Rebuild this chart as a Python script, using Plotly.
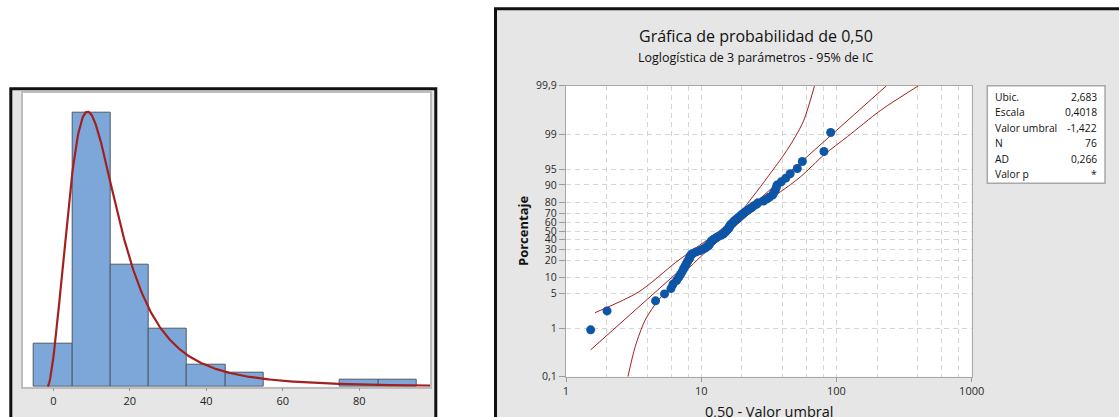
import numpy as np
import plotly.graph_objects as go

W, H = 1119, 417

# ---------------- data ----------------
# sorted observations of "0,50" (read from the probability plot)
values = [0.10, 0.59, 3.17, 3.93, 4.55, 4.76,
          5.15, 5.40, 5.61, 5.79, 5.95, 6.09, 6.23, 6.38, 6.51, 6.65,
          6.80, 6.85, 6.97, 7.20, 7.70, 8.36, 8.82, 9.27, 9.57, 9.91,
          10.06, 10.22, 10.38, 10.54, 10.85, 11.24, 11.61, 12.08, 12.58, 13.09,
          13.41, 13.69, 14.00, 14.20, 14.50, 14.70, 14.80, 14.90,
          15.29, 15.64, 15.96, 16.32, 16.73, 17.16, 17.65, 18.14, 18.62,
          19.17, 19.81, 20.58, 21.39, 22.22, 23.00, 24.20, 24.90,
          27.4, 29.0, 30.4, 32.2, 32.9, 33.8, 34.4, 34.9,
          37.6, 40.7, 44.0,
          49.9, 54.5,
          79.4, 89.2]

# histogram bins
bin_start, bin_end, bin_size = -5, 95, 10
hist_ticks = [0, 20, 40, 60, 80]

# fitted 3-parameter loglogistic
loc = 2.683
scale = 0.4018
threshold = -1.422
stat_labels = ["Ubic.", "Escala", "Valor umbral", "N", "AD", "Valor p"]
stat_values = ["2,683", "0,4018", "-1,422", "76", "0,266", "*"]

# probability-plot axes
pct_ticks = [0.1, 1, 5, 10, 20, 30, 40, 50, 60, 70, 80, 90, 95, 99, 99.9]
pct_labels = ["0,1", "1", "5", "10", "20", "30", "40", "50", "60", "70",
              "80", "90", "95", "99", "99,9"]
x_ticks = [1, 10, 100, 1000]
x_tick_labels = ["1", "10", "100", "1000"]
x_minor = [2, 4, 6, 8, 20, 40, 60, 80, 200, 400, 600, 800]

# 95% confidence band: x (value - threshold), percent
ci_low_x = [1.64, 3.44, 6.43, 8.30, 13.1, 19.5, 24.6, 30.5, 40.8, 49.7, 57.4, 68.9]
ci_low_p = [2.05, 5.28, 18.3, 27.4, 48.2, 71.3, 84.8, 92.5, 97.4, 98.89, 99.49, 99.9]
ci_up_x = [2.87, 3.25, 3.85, 4.83, 6.11, 9.85, 16.2, 28.9, 38.6, 54.3, 80.8, 120.5, 212.6, 404.6]
ci_up_p = [0.1, 0.414, 1.45, 3.68, 7.22, 22.7, 50, 80, 86.7, 92.99, 97.4, 98.89, 99.68, 99.9]

# ---------------- helpers ----------------
def logit_pct(p):
    q = np.asarray(p, dtype=float) / 100.0
    return np.log(q / (1 - q))

def px(x):
    return x / W

def py(y):
    return 1 - y / H

n = len(values)
shifted = np.sort(np.array(values)) - threshold
ranks = np.arange(1, n + 1)
plot_pos = (ranks - 0.3) / (n + 0.4) * 100

FONT = "Open Sans"
RED = "#A3201F"
BLUE = "#0D55A6"

fig = go.Figure()

# ---------------- left: histogram ----------------
fig.add_trace(go.Histogram(
    x=values, xbins=dict(start=bin_start, end=bin_end, size=bin_size),
    marker=dict(color="#7DA7D9", line=dict(color="#4D5966", width=1)),
    xaxis="x", yaxis="y", showlegend=False))

xc = np.linspace(threshold + 1e-4, 98.5, 500)
yy = xc - threshold
z = (np.log(yy) - loc) / scale
pdf = np.exp(z) / (scale * yy * (1 + np.exp(z)) ** 2)
fig.add_trace(go.Scatter(x=xc, y=pdf * n * bin_size, mode="lines",
                         line=dict(color=RED, width=2.2),
                         xaxis="x", yaxis="y", showlegend=False))

# ---------------- right: probability plot ----------------
fig.add_trace(go.Scatter(x=ci_low_x, y=logit_pct(ci_low_p), mode="lines",
                         line=dict(color=RED, width=1, shape="spline", smoothing=0.8),
                         xaxis="x2", yaxis="y2", showlegend=False))
fig.add_trace(go.Scatter(x=ci_up_x, y=logit_pct(ci_up_p), mode="lines",
                         line=dict(color=RED, width=1, shape="spline", smoothing=0.8),
                         xaxis="x2", yaxis="y2", showlegend=False))
fit_x = np.array([shifted.min(), np.exp(loc + scale * logit_pct(99.9))])
fig.add_trace(go.Scatter(x=fit_x, y=(np.log(fit_x) - loc) / scale, mode="lines",
                         line=dict(color=RED, width=1),
                         xaxis="x2", yaxis="y2", showlegend=False))
fig.add_trace(go.Scatter(x=shifted, y=logit_pct(plot_pos), mode="markers",
                         marker=dict(color=BLUE, size=9),
                         xaxis="x2", yaxis="y2", showlegend=False))

# ---------------- layout ----------------
LX0, LX1, LY0, LY1 = 22.7, 430, 92.7, 386.7
RX0, RX1, RY0, RY1 = 566, 971.7, 85.7, 376.7

tickfont = dict(family=FONT, size=10.5, color="#2A2A2A")
grid = dict(showgrid=True, gridcolor="#D6D6D6", gridwidth=1, griddash="5px,4px")

shapes = [
    # left panel frame
    dict(type="rect", xref="paper", yref="paper", x0=px(10.8), x1=px(435.8),
         y0=-0.1, y1=py(88.8), fillcolor="#E6E6E6",
         line=dict(color="#111111", width=3), layer="below"),
    dict(type="rect", xref="paper", yref="paper", x0=px(LX0), x1=px(LX1),
         y0=py(LY1), y1=py(LY0), fillcolor="white", line=dict(width=0), layer="below"),
    # right panel frame
    dict(type="rect", xref="paper", yref="paper", x0=px(495.5), x1=1.1,
         y0=-0.1, y1=py(8.8), fillcolor="#E6E6E6",
         line=dict(color="#111111", width=3), layer="below"),
    dict(type="rect", xref="paper", yref="paper", x0=px(RX0), x1=px(RX1),
         y0=py(RY1), y1=py(RY0), fillcolor="white", line=dict(width=0), layer="below"),
    # statistics box
    dict(type="rect", xref="paper", yref="paper", x0=px(987.3), x1=px(1105),
         y0=py(183.3), y1=py(85.7), fillcolor="white",
         line=dict(color="#A8A8A8", width=1.5), layer="above"),
]

annotations = [
    dict(text="Gráfica de probabilidad de 0,50", xref="paper", yref="paper",
         x=px(756), y=py(36), showarrow=False, xanchor="center", yanchor="middle",
         font=dict(family=FONT, size=16, color="#111111")),
    dict(text="Loglogística de 3 parámetros - 95% de IC", xref="paper", yref="paper",
         x=px(756), y=py(57), showarrow=False, xanchor="center", yanchor="middle",
         font=dict(family=FONT, size=12.5, color="#111111")),
    dict(text="<b>Porcentaje</b>", xref="paper", yref="paper", x=px(523), y=py(231),
         textangle=-90, showarrow=False, xanchor="center", yanchor="middle",
         font=dict(family=FONT, size=13, color="#111111")),
    dict(text="0,50 - Valor umbral", xref="paper", yref="paper", x=px(769), y=py(411),
         showarrow=False, xanchor="center", yanchor="middle",
         font=dict(family=FONT, size=14.5, color="#111111")),
]
for i, (lab, val) in enumerate(zip(stat_labels, stat_values)):
    yrow = 96.7 + i * 15.5
    annotations.append(dict(text=lab, xref="paper", yref="paper", x=px(993), y=py(yrow),
                            showarrow=False, xanchor="left", yanchor="middle",
                            font=dict(family=FONT, size=10.3, color="#111111")))
    annotations.append(dict(text=val, xref="paper", yref="paper", x=px(1099), y=py(yrow),
                            showarrow=False, xanchor="right", yanchor="middle",
                            font=dict(family=FONT, size=10.3, color="#111111")))

fig.update_layout(
    width=W, height=H, margin=dict(l=0, r=0, t=0, b=0, autoexpand=False),
    paper_bgcolor="white", plot_bgcolor="white",
    bargap=0, showlegend=False,
    font=dict(family=FONT, color="#333333"),
    xaxis=dict(domain=[px(LX0), px(LX1)], range=[-8, 98.5], automargin=False,
               tickvals=hist_ticks, ticks="outside", ticklen=3, tickcolor="#9A9A9A",
               tickfont=dict(family=FONT, size=11, color="#222222"),
               showgrid=False, zeroline=False,
               showline=True, mirror=True, linecolor="#BDBDBD", linewidth=1.5),
    yaxis=dict(domain=[py(LY1), py(LY0)], range=[0, 40.8], showticklabels=False,
               automargin=False, ticks="", showgrid=False, zeroline=False,
               showline=True, mirror=True, linecolor="#BDBDBD", linewidth=1.5),
    xaxis2=dict(domain=[px(RX0), px(RX1)], type="log", range=[0, 3], anchor="y2",
                automargin=False,
                tickvals=x_ticks, ticktext=x_tick_labels, ticks="outside", ticklen=4,
                tickcolor="#9A9A9A", tickfont=dict(family=FONT, size=11, color="#2A2A2A"),
                zeroline=False,
                showline=True, mirror=True, linecolor="#A8A8A8", linewidth=1.2,
                minor=dict(tickmode="array", tickvals=x_minor, ticklen=0, **grid),
                **grid),
    yaxis2=dict(domain=[py(RY1), py(RY0)], anchor="x2", automargin=False,
                range=[float(logit_pct(0.1)), float(logit_pct(99.9))],
                tickvals=logit_pct(pct_ticks), ticktext=pct_labels,
                ticks="outside", ticklen=6, tickcolor="#9A9A9A", tickfont=tickfont,
                zeroline=False, showline=True, mirror=True, linecolor="#A8A8A8",
                linewidth=1.2, **grid),
    shapes=shapes, annotations=annotations,
)

fig.write_html("out.html", config={"displayModeBar": False},
               post_script="document.body.style.margin='0';"
                           "document.body.style.overflow='hidden';")
